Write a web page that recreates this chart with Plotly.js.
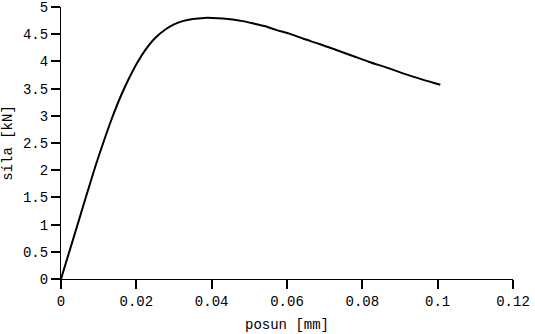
<!DOCTYPE html>
<html><head><meta charset="utf-8">
<script src="https://cdn.plot.ly/plotly-3.0.1.min.js"></script>
<style>html,body{margin:0;padding:0;background:#fff}#chart{width:535px;height:334px}</style>
</head><body><div id="chart"></div>
<script>
const posun = [0, 0.0044, 0.0088, 0.0112, 0.0135, 0.0158, 0.0180, 0.0202, 0.0225, 0.0250, 0.0278, 0.0300, 0.0323, 0.0350, 0.0380, 0.0402, 0.0430, 0.0456, 0.0482, 0.0509, 0.0540, 0.0571, 0.0606, 0.0642, 0.0686, 0.0731, 0.0775, 0.0819, 0.0863, 0.0908, 0.0958, 0.1007];
const sila  = [0, 1.00, 2.00, 2.50, 2.95, 3.35, 3.68, 3.97, 4.22, 4.43, 4.59, 4.68, 4.74, 4.78, 4.80, 4.80, 4.79, 4.77, 4.74, 4.70, 4.65, 4.58, 4.51, 4.42, 4.32, 4.21, 4.10, 3.99, 3.89, 3.78, 3.67, 3.57];
const xTicks = [0, 0.02, 0.04, 0.06, 0.08, 0.1, 0.12];
const xTickText = ["0", "0.02", "0.04", "0.06", "0.08", "0.1", "0.12"];
const yTicks = [0, 0.5, 1, 1.5, 2, 2.5, 3, 3.5, 4, 4.5, 5];
const yTickText = ["0", "0.5", "1", "1.5", "2", "2.5", "3", "3.5", "4", "4.5", "5"];

const font = {family: "Liberation Mono, monospace", size: 14, color: "#000"};
Plotly.newPlot("chart", [{
  x: posun, y: sila, type: "scatter", mode: "lines",
  line: {color: "#000", width: 2, shape: "spline", smoothing: 0.8},
  hoverinfo: "none"
}], {
  width: 535, height: 334,
  margin: {l: 61, r: 22, t: 7, b: 55},
  paper_bgcolor: "#fff", plot_bgcolor: "#fff",
  showlegend: false,
  font: font,
  xaxis: {
    range: [0, 0.12], tickvals: xTicks, ticktext: xTickText,
    showgrid: false, zeroline: false, showline: true, linecolor: "#000", linewidth: 1,
    ticks: "outside", ticklen: 9, tickwidth: 2, tickcolor: "#000",
    tickfont: font, ticklabeloverflow: "allow",
    title: {text: "posun [mm]", font: font, standoff: 10}
  },
  yaxis: {
    range: [0, 5], tickvals: yTicks, ticktext: yTickText,
    showgrid: false, zeroline: false, showline: true, linecolor: "#000", linewidth: 1,
    ticks: "outside", ticklen: 9, tickwidth: 2, tickcolor: "#000",
    tickfont: font, ticklabeloverflow: "allow",
    title: {text: "síla [kN]", font: font, standoff: 8}
  }
}, {staticPlot: true});
</script></body></html>
